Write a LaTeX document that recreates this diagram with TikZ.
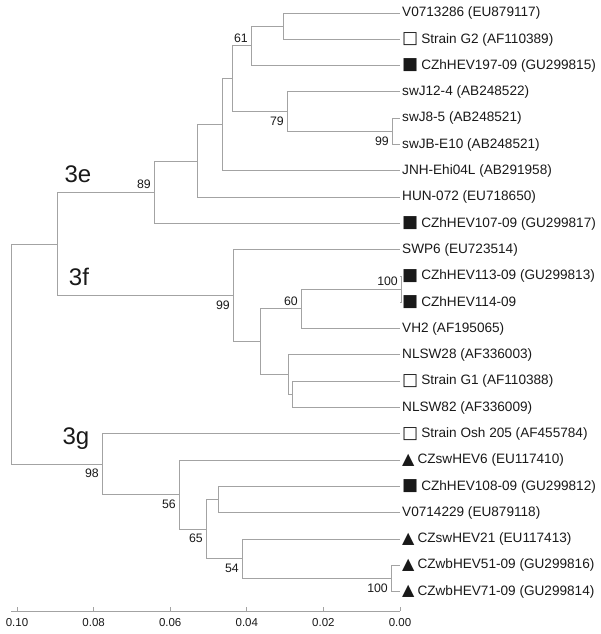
\documentclass[tikz,border=0pt]{standalone}
\usepackage{fontspec}
\setmainfont{Liberation Sans}
\newfontfamily\symf{DejaVu Sans}
\usetikzlibrary{positioning}

\definecolor{branch}{gray}{0.64}
\definecolor{ink}{gray}{0.1}

% markers in front of the strain names
\newcommand{\opensq}{\raisebox{-0.6pt}{\fontsize{17}{15}\symf\char"25A1}\hspace{3pt}}
\newcommand{\fullsq}{\raisebox{-0.6pt}{\fontsize{17}{15}\symf\char"25A0}\hspace{3pt}}
\newcommand{\fulltri}{\raisebox{-0.6pt}{\fontsize{16}{15}\symf\char"25B2}\hspace{3pt}}

\begin{document}
\begin{tikzpicture}[x=1pt,y=-1pt,
  twig/.style={draw=branch,line width=0.9pt},
  leaf/.style={anchor=west,inner sep=2pt,text=ink,font=\fontsize{13.6}{15}\selectfont},
  bootup/.style={anchor=south east,inner sep=1pt,xshift=-2pt,yshift=2pt,text=ink,font=\fontsize{12.3}{13}\selectfont},
  bootdn/.style={anchor=north east,inner sep=1pt,xshift=-2pt,yshift=-4pt,text=ink,font=\fontsize{12.3}{13}\selectfont},
  clade/.style={text=ink,font=\fontsize{24}{26}\selectfont},
  tick/.style={text=ink,font=\fontsize{11.5}{13}\selectfont}]

   \useasboundingbox (0,0) rectangle (600,634);

   % leaves
   \node[leaf] (v1)  at (400,13)    {V0713286 (EU879117)};
   \node[leaf] (v2)  at (400,39.3)  {\opensq Strain G2 (AF110389)};
   \node[leaf] (v3)  at (400,65.6)  {\fullsq CZhHEV197-09 (GU299815)};
   \node[leaf] (v4)  at (400,91.9)  {swJ12-4 (AB248522)};
   \node[leaf] (v5)  at (400,118.2) {swJ8-5 (AB248521)};
   \node[leaf] (v6)  at (400,144.5) {swJB-E10 (AB248521)};
   \node[leaf] (v7)  at (400,170.8) {JNH-Ehi04L (AB291958)};
   \node[leaf] (v8)  at (400,197.1) {HUN-072 (EU718650)};
   \node[leaf] (v9)  at (400,223.4) {\fullsq CZhHEV107-09 (GU299817)};
   \node[leaf] (v10) at (400,249.7) {SWP6 (EU723514)};
   \node[leaf] (v11) at (400,276)   {\fullsq CZhHEV113-09 (GU299813)};
   \node[leaf] (v12) at (400,302.3) {\fullsq CZhHEV114-09};
   \node[leaf] (v13) at (400,328.6) {VH2 (AF195065)};
   \node[leaf] (v14) at (400,354.9) {NLSW28 (AF336003)};
   \node[leaf] (v15) at (400,381.2) {\opensq Strain G1 (AF110388)};
   \node[leaf] (v16) at (400,407.5) {NLSW82 (AF336009)};
   \node[leaf] (v17) at (400,433.8) {\opensq Strain Osh 205 (AF455784)};
   \node[leaf] (v18) at (400,460.1) {\fulltri CZswHEV6 (EU117410)};
   \node[leaf] (v19) at (400,486.4) {\fullsq CZhHEV108-09 (GU299812)};
   \node[leaf] (v20) at (400,512.7) {V0714229 (EU879118)};
   \node[leaf] (v21) at (400,539)   {\fulltri CZswHEV21 (EU117413)};
   \node[leaf] (v22) at (400,565.3) {\fulltri CZwbHEV51-09 (GU299816)};
   \node[leaf] (v23) at (400,591.6) {\fulltri CZwbHEV71-09 (GU299814)};

   % inner nodes
   \coordinate (g2)   at (283,26.2);
   \coordinate (n61)  at (251,45.9);
   \coordinate (n99a) at (392,131.3);
   \coordinate (n79)  at (287,111.6);
   \coordinate (sw)   at (232,78.8);
   \coordinate (jnh)  at (222,124.8);
   \coordinate (hun)  at (197,161);
   \coordinate (n89)  at (154,192.2);
   \coordinate (n100a) at (401,289.2);
   \coordinate (n60)  at (301,308.9);
   \coordinate (g1)   at (292,394.4);
   \coordinate (nl)   at (288,374.6);
   \coordinate (vh)   at (260,341.8);
   \coordinate (n99b) at (233,295.7);
   \coordinate (ef)   at (57,244);
   \coordinate (s108) at (218,499.5);
   \coordinate (n100b) at (391,578.5);
   \coordinate (n54)  at (242,558.7);
   \coordinate (n65)  at (206,529.1);
   \coordinate (n56)  at (179,494.6);
   \coordinate (n98)  at (102,464.2);
   \coordinate (root) at (11,354);

   % branches
   \draw[twig] (g2) |- (v1.west);
   \draw[twig] (g2) |- (v2.west);
   \draw[twig] (n61) |- (g2);
   \draw[twig] (n61) |- (v3.west);
   \draw[twig] (n99a) |- (v5.west);
   \draw[twig] (n99a) |- (v6.west);
   \draw[twig] (n79) |- (v4.west);
   \draw[twig] (n79) |- (n99a);
   \draw[twig] (sw) |- (n61);
   \draw[twig] (sw) |- (n79);
   \draw[twig] (jnh) |- (sw);
   \draw[twig] (jnh) |- (v7.west);
   \draw[twig] (hun) |- (jnh);
   \draw[twig] (hun) |- (v8.west);
   \draw[twig] (n89) |- (hun);
   \draw[twig] (n89) |- (v9.west);
   \draw[twig] (n100a) |- (v11.west);
   \draw[twig] (n100a) |- (v12.west);
   \draw[twig] (n60) |- (n100a);
   \draw[twig] (n60) |- (v13.west);
   \draw[twig] (g1) |- (v15.west);
   \draw[twig] (g1) |- (v16.west);
   \draw[twig] (nl) |- (v14.west);
   \draw[twig] (nl) |- (g1);
   \draw[twig] (vh) |- (n60);
   \draw[twig] (vh) |- (nl);
   \draw[twig] (n99b) |- (v10.west);
   \draw[twig] (n99b) |- (vh);
   \draw[twig] (ef) |- (n89);
   \draw[twig] (ef) |- (n99b);
   \draw[twig] (s108) |- (v19.west);
   \draw[twig] (s108) |- (v20.west);
   \draw[twig] (n100b) |- (v22.west);
   \draw[twig] (n100b) |- (v23.west);
   \draw[twig] (n54) |- (v21.west);
   \draw[twig] (n54) |- (n100b);
   \draw[twig] (n65) |- (s108);
   \draw[twig] (n65) |- (n54);
   \draw[twig] (n56) |- (v18.west);
   \draw[twig] (n56) |- (n65);
   \draw[twig] (n98) |- (v17.west);
   \draw[twig] (n98) |- (n56);
   \draw[twig] (root) |- (ef);
   \draw[twig] (root) |- (n98);

   % bootstrap values
   \node[bootup] (b61)  at (n61)   {61};
   \node[bootdn] (b79)  at (n79)   {79};
   \node[bootdn] (b99a) at (n99a)  {99};
   \node[bootup] (b89)  at (n89)   {89};
   \node[bootdn] (b99b) at (n99b)  {99};
   \node[bootup] (b60)  at (n60)   {60};
   \node[bootup] (b100a) at (n100a) {100};
   \node[bootdn] (b98)  at (n98)   {98};
   \node[bootdn] (b56)  at (n56)   {56};
   \node[bootdn] (b65)  at (n65)   {65};
   \node[bootdn] (b54)  at (n54)   {54};
   \node[bootdn] (b100b) at (n100b) {100};

   % genotypes
   \node[clade] (c3e) at (78,174) {3e};
   \node[clade] (c3f) at (79,277) {3f};
   \node[clade] (c3g) at (76,439) {3g};

   % scale
   \draw[twig] (11,611) -- (400,611);
   \foreach \v/\t in {0/0.10,1/0.08,2/0.06,3/0.04,4/0.02,5/0.00}
   {
     \draw[twig] (17+76.6*\v,607) -- (17+76.6*\v,611);
     \node[tick] (s\v) at (17+76.6*\v,623) {\t};
   }

\end{tikzpicture}
\end{document}
